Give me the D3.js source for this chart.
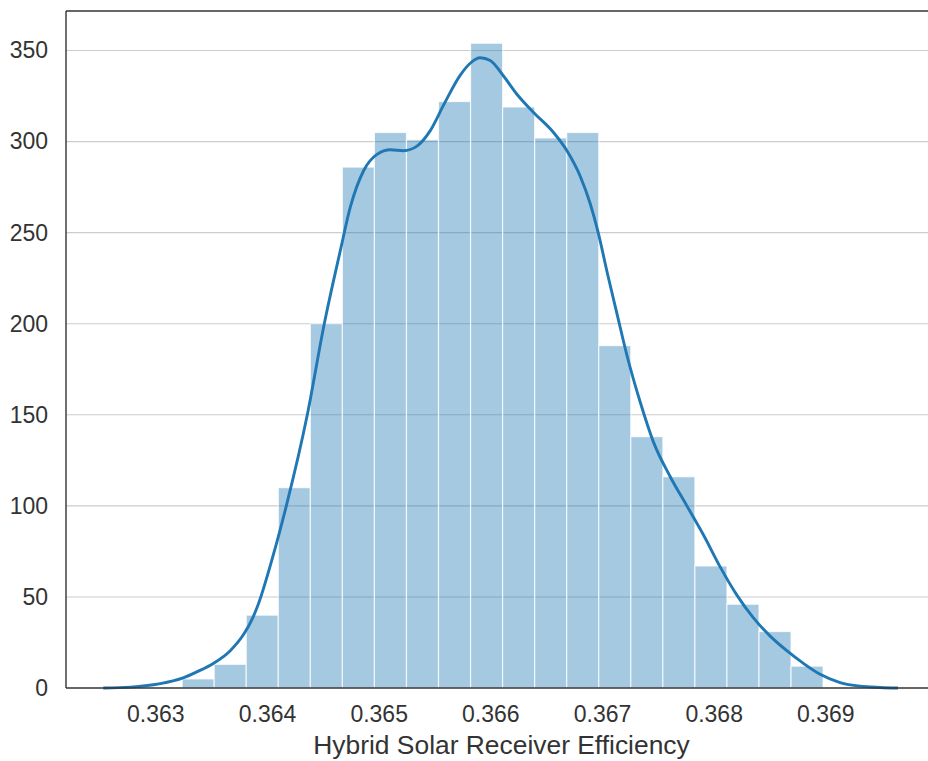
<!DOCTYPE html>
<html>
<head>
<meta charset="utf-8">
<script src="https://cdn.jsdelivr.net/npm/d3@7"></script>
<style>
  body { margin: 0; background: #fff; }
  text { font-family: "Liberation Sans", Arial, Helvetica, sans-serif; }
</style>
</head>
<body>
<svg id="chart" width="928" height="761"></svg>
<script>
// ---------- DATA ----------
const binEdges = [0.363240, 0.363527, 0.363814, 0.364101, 0.364388, 0.364675, 0.364962,
  0.365249, 0.365536, 0.365823, 0.366110, 0.366397, 0.366684, 0.366971, 0.367258,
  0.367545, 0.367832, 0.368119, 0.368406, 0.368693, 0.368980];
const binCounts = [5, 13, 40, 110, 200, 286, 305, 301, 322, 354, 319, 302, 305, 188, 138, 116, 67, 46, 31, 12];

const kdeX = [0.362534, 0.362776, 0.362910, 0.363045, 0.363242, 0.363376, 0.363519, 0.363671,
  0.363797, 0.363868, 0.363922, 0.364047, 0.364173, 0.364361, 0.364513, 0.364656, 0.364746,
  0.364865, 0.364985, 0.365104, 0.365223, 0.365343, 0.365462, 0.365581, 0.365731, 0.365820,
  0.365910, 0.365999, 0.366118, 0.366238, 0.366387, 0.366566, 0.366686, 0.366805, 0.366894,
  0.366966, 0.367047, 0.367136, 0.367226, 0.367342, 0.367461, 0.367611, 0.367760, 0.367909,
  0.368058, 0.368208, 0.368356, 0.368506, 0.368655, 0.368804, 0.368953, 0.369132, 0.369311,
  0.369490, 0.369651];
const kdeY = [0, 0.5, 1.2, 2.4, 5.4, 9, 13.5, 20.5, 30, 38, 46, 71, 100, 150, 200, 240, 264,
  284, 293, 295.5, 295, 297.5, 306, 320, 336.5, 343, 346, 344.5, 336, 326, 316, 305, 295,
  281, 266, 250, 228, 205, 182, 157, 135, 116, 100, 84, 66.5, 51, 38.5, 28.5, 20.5, 13.5,
  7.5, 3, 1, 0.3, 0];

const xTicks = [0.363, 0.364, 0.365, 0.366, 0.367, 0.368, 0.369];
const yTicks = [0, 50, 100, 150, 200, 250, 300, 350];
const xLabel = "Hybrid Solar Receiver Efficiency";

// ---------- LAYOUT ----------
const mLeft = 66, mRight = 937, mTop = 11, mBottom = 688;
const color = "#1f77b4";

const svg = d3.select("#chart");
const x = d3.scaleLinear().domain([0.3622, 0.3700]).range([mLeft, mRight]);
const y = d3.scaleLinear().domain([0, 371.7]).range([mBottom, mTop]);

// grid
svg.append("g")
  .selectAll("line")
  .data(yTicks.filter(d => d > 0))
  .join("line")
  .attr("x1", mLeft).attr("x2", mRight)
  .attr("y1", d => y(d)).attr("y2", d => y(d))
  .attr("stroke", "#cccccc")
  .attr("stroke-width", 1.1);

// bars
const bins = binCounts.map((c, i) => ({ x0: binEdges[i], x1: binEdges[i + 1], c }));
svg.append("g")
  .selectAll("rect")
  .data(bins)
  .join("rect")
  .attr("x", d => x(d.x0))
  .attr("width", d => x(d.x1) - x(d.x0))
  .attr("y", d => y(d.c))
  .attr("height", d => y(0) - y(d.c))
  .attr("fill", color)
  .attr("fill-opacity", 0.4)
  .attr("stroke", "#ffffff")
  .attr("stroke-opacity", 0.75)
  .attr("stroke-width", 1.2);

// KDE line
const kde = kdeX.map((v, i) => [v, kdeY[i]]);
svg.append("path")
  .datum(kde)
  .attr("fill", "none")
  .attr("stroke", color)
  .attr("stroke-width", 2.9)
  .attr("stroke-linejoin", "round")
  .attr("d", d3.line().x(d => x(d[0])).y(d => y(d[1])).curve(d3.curveMonotoneX));

// axes
const xAxis = d3.axisBottom(x).tickValues(xTicks).tickSize(0).tickPadding(17.5)
  .tickFormat(d3.format(".3f"));
const gx = svg.append("g").attr("transform", `translate(0,${mBottom})`).call(xAxis);
gx.select(".domain").remove();
gx.selectAll("text").attr("font-size", 23).attr("fill", "#333")
  .style("font-family", '"Liberation Sans", Arial, sans-serif');

const yAxis = d3.axisLeft(y).tickValues(yTicks).tickSize(0).tickPadding(18)
  .tickFormat(d3.format("d"));
const gy = svg.append("g").attr("transform", `translate(${mLeft},0)`).call(yAxis);
gy.select(".domain").remove();
gy.selectAll("text").attr("font-size", 23).attr("fill", "#333")
  .style("font-family", '"Liberation Sans", Arial, sans-serif');

// spines
const spine = svg.append("g").attr("stroke", "#333").attr("stroke-width", 1.4).attr("fill", "none");
spine.append("line").attr("x1", mLeft).attr("x2", mLeft).attr("y1", mTop).attr("y2", mBottom);
spine.append("line").attr("x1", mLeft).attr("x2", mRight).attr("y1", mBottom).attr("y2", mBottom);
spine.append("line").attr("x1", mLeft).attr("x2", mRight).attr("y1", mTop).attr("y2", mTop);
spine.append("line").attr("x1", mRight).attr("x2", mRight).attr("y1", mTop).attr("y2", mBottom);

// x label
svg.append("text")
  .attr("x", (mLeft + mRight) / 2)
  .attr("y", 754)
  .attr("text-anchor", "middle")
  .attr("font-size", 26.4)
  .attr("fill", "#333")
  .text(xLabel);
</script>
</body>
</html>
